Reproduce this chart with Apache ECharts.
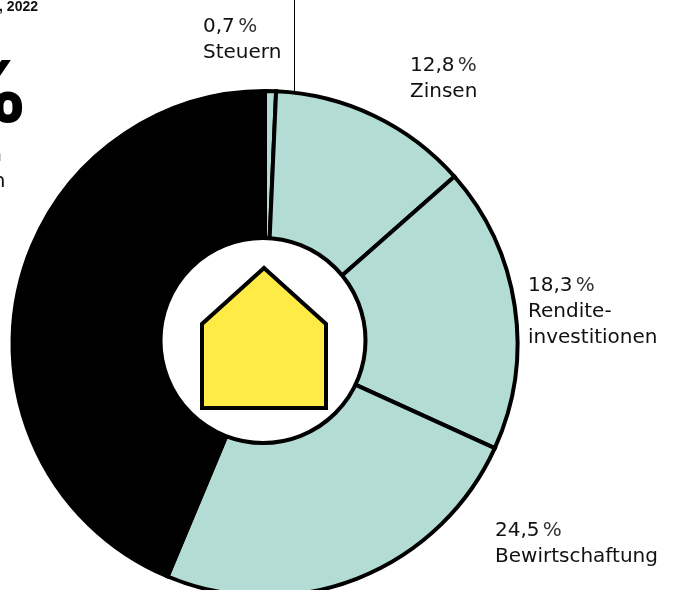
<!DOCTYPE html>
<html><head><meta charset="utf-8">
<style>html,body{margin:0;padding:0;background:#fff;overflow:hidden}#c{width:673px;height:590px}</style>
<script src="https://cdn.jsdelivr.net/npm/echarts@6/dist/echarts.min.js"></script>
</head><body><div id="c"></div>
<script>
const categories = ['Steuern','Zinsen','Rendite-\ninvestitionen','Bewirtschaftung','Übrige'];
const values = [0.7,12.8,18.3,24.5,43.7];
const valueLabels = ['0,7','12,8','18,3','24,5',''];
const colors = ['#b3dcd5','#b3dcd5','#b3dcd5','#b3dcd5','#000000'];
const labelAnchors = [[203,14],[410,53],[528,273],[495,518],null];
const FONT = '"DejaVu Sans"';
const chart = echarts.init(document.getElementById('c'),null,{renderer:'canvas'});
chart.setOption({
  animation:false,
  backgroundColor:'#fff',
  series:[{
    type:'pie',
    center:[265,343.5],
    radius:[60,252.5],
    startAngle:90,
    clockwise:true,
    silent:true,
    avoidLabelOverlap:false,
    itemStyle:{borderColor:'#000',borderWidth:4,borderJoin:'miter'},
    labelLine:{show:false},
    label:{
      show:true,position:'outside',alignTo:'none',
      formatter:p=>valueLabels[p.dataIndex]?`{v|${valueLabels[p.dataIndex]}} {p|%}\n{n|${categories[p.dataIndex].replace('\n','}\n{n|')}}`:'',
      rich:{
        v:{fontFamily:FONT,fontSize:20,fontWeight:400,lineHeight:26,color:'#111'},
        p:{fontFamily:FONT,fontSize:20,fontWeight:400,lineHeight:26,color:'#333'},
        n:{fontFamily:FONT,fontSize:20,fontWeight:400,lineHeight:26,color:'#111'}
      }
    },
    labelLayout:p=>{const a=labelAnchors[p.dataIndex];return a?{x:a[0],y:a[1],align:'left',verticalAlign:'top',hideOverlap:false}:{}},
    data:categories.map((n,i)=>({name:n,value:values[i],itemStyle:{color:colors[i]}}))
  }],
  graphic:[
    {type:'line',z:10,shape:{x1:294.5,y1:0,x2:294.5,y2:93},style:{stroke:'#000',lineWidth:1}},
    {type:'circle',z:10,shape:{cx:263,cy:340.5,r:102.5},style:{fill:'#fff',stroke:'#000',lineWidth:4}},
    {type:'polygon',z:11,shape:{points:[[202,408],[202,324],[264,268],[326,324],[326,408]]},style:{fill:'#ffeb45',stroke:'#000',lineWidth:4,lineJoin:'miter'}},
    {type:'text',z:10,style:{x:38,y:0,text:', 2022',align:'right',font:'bold 14px "Liberation Sans"',fill:'#111'}},
    {type:'text',z:10,style:{x:29,y:53.5,text:'%',align:'right',font:'800 85px Inter',fill:'#000'}},
    {type:'text',z:10,style:{x:2,y:146,text:'n',align:'right',font:'400 20px "DejaVu Sans"',fill:'#111'}},
    {type:'text',z:10,style:{x:5.5,y:172,text:'n',align:'right',font:'400 20px "DejaVu Sans"',fill:'#111'}}
  ]
});
</script></body></html>
